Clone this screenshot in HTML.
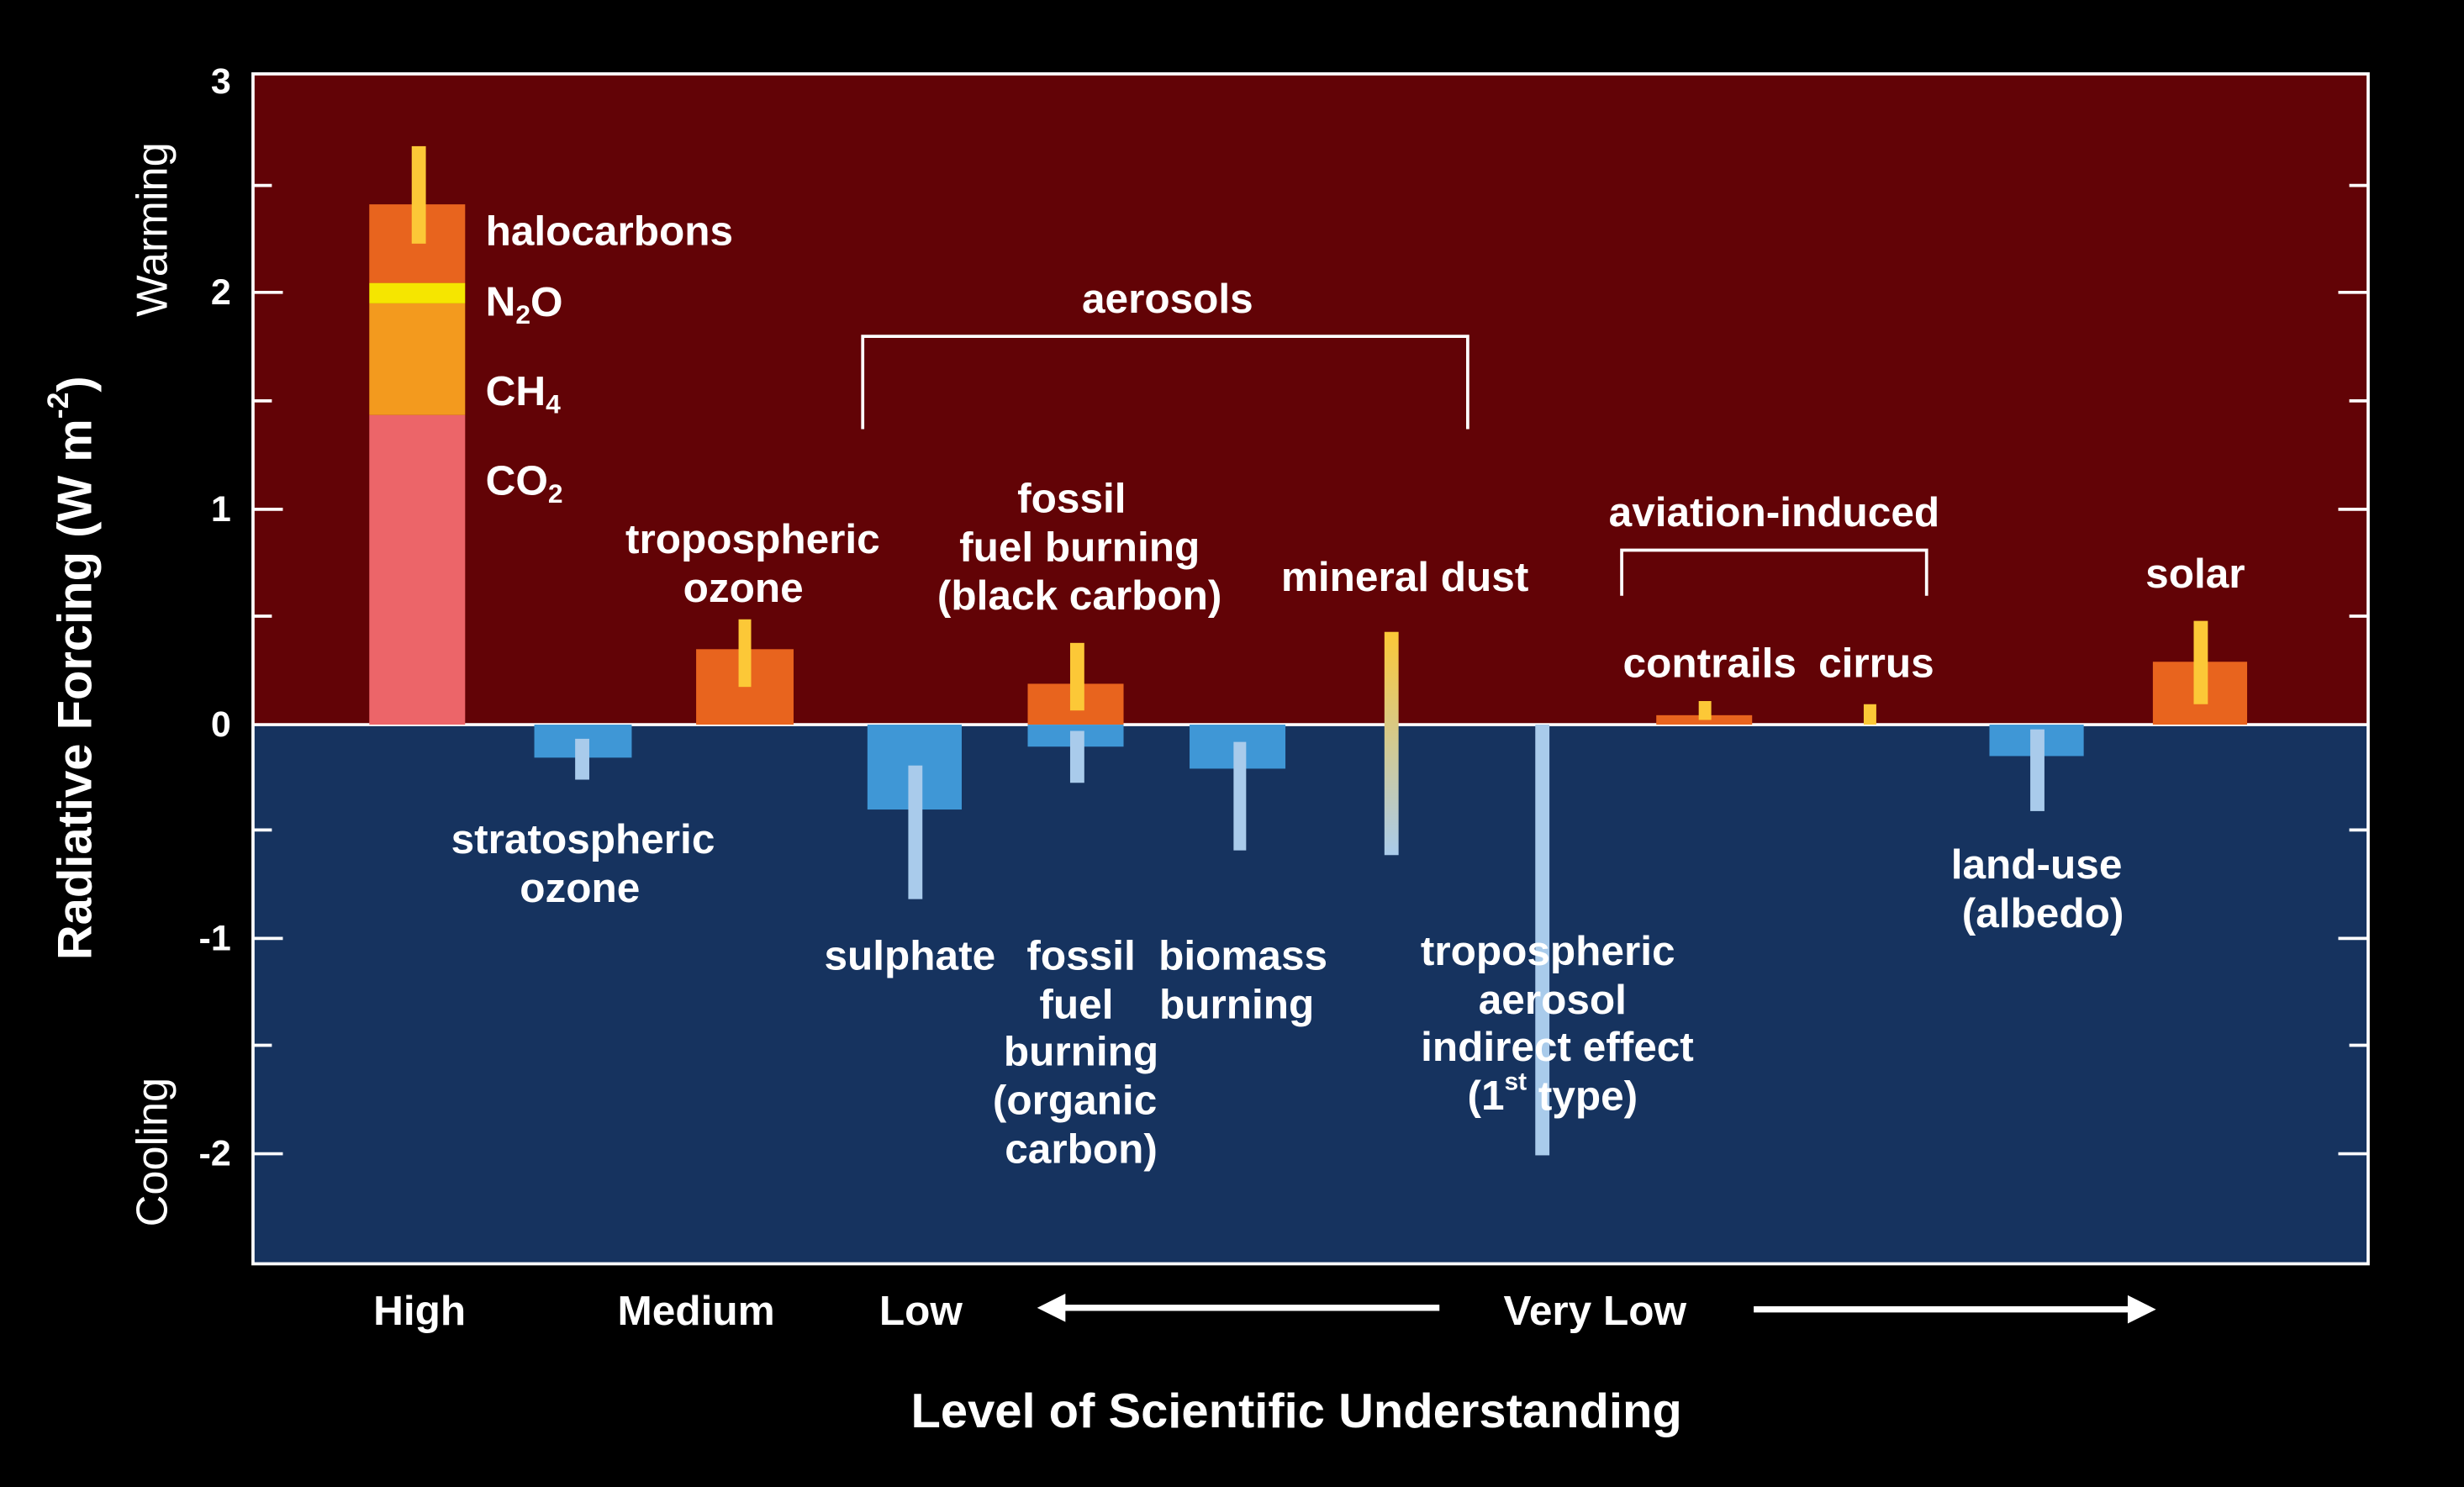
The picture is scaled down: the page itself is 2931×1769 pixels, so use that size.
<!DOCTYPE html>
<html><head><meta charset="utf-8"><style>
html,body{margin:0;padding:0;background:#000;}
svg{display:block;}
text{font-family:"Liberation Sans",Arial,sans-serif;font-weight:bold;fill:#fff;}
</style></head><body>
<svg width="2931" height="1769" viewBox="0 0 1568 946" preserveAspectRatio="none" xmlns="http://www.w3.org/2000/svg">
<defs>
<linearGradient id="dust" x1="0" y1="0" x2="0" y2="1">
<stop offset="0" stop-color="#fcc837"/><stop offset="1" stop-color="#a9cbeb"/>
</linearGradient>
</defs>
<rect x="0" y="0" width="1568" height="946" fill="#000"/>
<rect x="161" y="47" width="1346" height="414" fill="#620306"/>
<rect x="161" y="461" width="1346" height="343" fill="#16335f"/>
<rect x="161" y="47" width="1346" height="757" fill="none" stroke="#fff" stroke-width="2"/>
<line x1="161" y1="461" x2="1507" y2="461" stroke="#fff" stroke-width="2"/>
<g stroke="#fff" stroke-width="2">
<line x1="161" y1="118" x2="173" y2="118"/><line x1="161" y1="186" x2="180" y2="186"/>
<line x1="161" y1="255" x2="173" y2="255"/><line x1="161" y1="324" x2="180" y2="324"/>
<line x1="161" y1="392" x2="173" y2="392"/>
<line x1="161" y1="528" x2="173" y2="528"/><line x1="161" y1="597" x2="180" y2="597"/>
<line x1="161" y1="665" x2="173" y2="665"/><line x1="161" y1="734" x2="180" y2="734"/>
<line x1="1495" y1="118" x2="1507" y2="118"/><line x1="1488" y1="186" x2="1507" y2="186"/>
<line x1="1495" y1="255" x2="1507" y2="255"/><line x1="1488" y1="324" x2="1507" y2="324"/>
<line x1="1495" y1="392" x2="1507" y2="392"/>
<line x1="1495" y1="528" x2="1507" y2="528"/><line x1="1488" y1="597" x2="1507" y2="597"/>
<line x1="1495" y1="665" x2="1507" y2="665"/><line x1="1488" y1="734" x2="1507" y2="734"/>
</g>
<g font-size="23" text-anchor="end" dominant-baseline="central">
<text x="147" y="52">3</text><text x="147" y="186">2</text><text x="147" y="324">1</text>
<text x="147" y="461">0</text><text x="147" y="597">-1</text><text x="147" y="734">-2</text>
</g>
<text transform="translate(48,425) rotate(-90)" font-size="31" text-anchor="middle" dominant-baseline="central">Radiative Forcing (W m<tspan font-size="19" dy="-11">-2</tspan><tspan dy="11">)</tspan></text>
<text transform="translate(97,146) rotate(-90)" font-size="28" text-anchor="middle" dominant-baseline="central" style="font-weight:normal">Warming</text>
<text transform="translate(97,733) rotate(-90)" font-size="28" text-anchor="middle" dominant-baseline="central" style="font-weight:normal">Cooling</text>
<rect x="235" y="264" width="61" height="197" fill="#ec6569"/>
<rect x="235" y="193" width="61" height="71" fill="#f39a1e"/>
<rect x="235" y="180" width="61" height="13" fill="#f5e600"/>
<rect x="235" y="130" width="61" height="50" fill="#e8641e"/>
<rect x="262" y="93" width="9" height="62" fill="#fcc837"/>
<rect x="340" y="461" width="62" height="21" fill="#3f97d6"/>
<rect x="366" y="470" width="9" height="26" fill="#a9cbeb"/>
<rect x="443" y="413" width="62" height="48" fill="#e8641e"/>
<rect x="470" y="394" width="8" height="43" fill="#fcc837"/>
<rect x="552" y="461" width="60" height="54" fill="#3f97d6"/>
<rect x="578" y="487" width="9" height="85" fill="#a9cbeb"/>
<rect x="654" y="435" width="61" height="26" fill="#e8641e"/>
<rect x="654" y="461" width="61" height="14" fill="#3f97d6"/>
<rect x="681" y="409" width="9" height="43" fill="#fcc837"/>
<rect x="681" y="465" width="9" height="33" fill="#a9cbeb"/>
<rect x="757" y="461" width="61" height="28" fill="#3f97d6"/>
<rect x="785" y="472" width="8" height="69" fill="#a9cbeb"/>
<rect x="881" y="402" width="9" height="142" fill="url(#dust)"/>
<rect x="977" y="461" width="9" height="274" fill="#a9cbeb"/>
<rect x="1054" y="455" width="61" height="6" fill="#e8641e"/>
<rect x="1081" y="446" width="8" height="12" fill="#fcc837"/>
<rect x="1186" y="448" width="8" height="13" fill="#fcc837"/>
<rect x="1266" y="461" width="60" height="20" fill="#3f97d6"/>
<rect x="1292" y="464" width="9" height="52" fill="#a9cbeb"/>
<rect x="1370" y="421" width="60" height="40" fill="#e8641e"/>
<rect x="1396" y="395" width="9" height="53" fill="#fcc837"/>
<polyline points="549,273 549,214 934,214 934,273" fill="none" stroke="#fff" stroke-width="2"/>
<polyline points="1032,379 1032,350 1226,350 1226,379" fill="none" stroke="#fff" stroke-width="2"/>
<g font-size="26.5" dominant-baseline="central">
<text x="309" y="147">halocarbons</text>
<text x="309" y="192">N<tspan font-size="17" dy="8">2</tspan><tspan dy="-8">O</tspan></text>
<text x="309" y="249">CH<tspan font-size="17" dy="8">4</tspan></text>
<text x="309" y="306">CO<tspan font-size="17" dy="8">2</tspan></text>
</g>
<g font-size="26.5" text-anchor="middle" dominant-baseline="central">
<text x="743" y="190">aerosols</text>
<text x="1129" y="326">aviation-induced</text>
<text x="479" y="343">tropospheric</text><text x="473" y="374">ozone</text>
<text x="371" y="534">stratospheric</text><text x="369" y="565">ozone</text>
<text x="682" y="317">fossil</text><text x="687" y="348">fuel burning</text><text x="687" y="379">(black carbon)</text>
<text x="894" y="367">mineral dust</text>
<text x="1088" y="422">contrails</text><text x="1194" y="422">cirrus</text>
<text x="1397" y="365">solar</text>
<text x="579" y="608">sulphate</text>
<text x="688" y="608">fossil</text><text x="685" y="639">fuel</text><text x="688" y="669">burning</text><text x="684" y="700">(organic</text><text x="688" y="731">carbon)</text>
<text x="791" y="608">biomass</text><text x="787" y="639">burning</text>
<text x="985" y="605">tropospheric</text><text x="988" y="636">aerosol</text><text x="991" y="666">indirect effect</text>
<text x="988" y="697">(1<tspan font-size="16" dy="-9">st</tspan><tspan dy="9"> type)</tspan></text>
<text x="1296" y="550">land-use</text><text x="1300" y="581">(albedo)</text>
<text x="267" y="834">High</text><text x="443" y="834">Medium</text><text x="586" y="834">Low</text>
<text x="1015" y="834">Very Low</text>
<text x="825" y="898" font-size="31">Level of Scientific Understanding</text>
</g>
<line x1="676" y1="832" x2="916" y2="832" stroke="#fff" stroke-width="4"/>
<polygon points="660,832 678,823 678,841" fill="#fff"/>
<line x1="1116" y1="833" x2="1356" y2="833" stroke="#fff" stroke-width="4"/>
<polygon points="1372,833 1354,824 1354,842" fill="#fff"/>
</svg>
</body></html>
